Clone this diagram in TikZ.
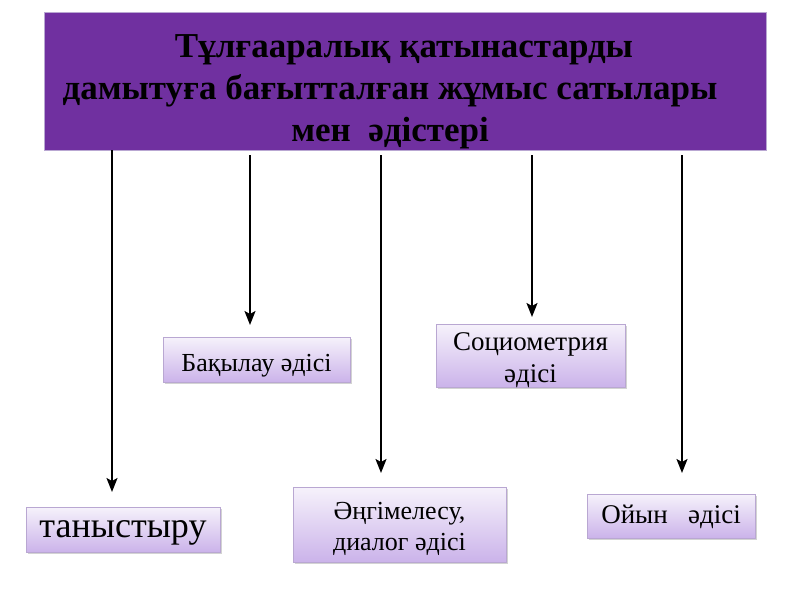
\documentclass[tikz,border=0pt]{standalone}
\usepackage{fontspec}
\setmainfont{Liberation Serif}
\usetikzlibrary{shadows,arrows.meta}
\definecolor{titlepurple}{HTML}{7030A0}
\definecolor{boxtop}{HTML}{F6F2FB}
\definecolor{boxbot}{HTML}{CBB3EA}
\definecolor{boxedge}{HTML}{B9A7D2}
\tikzset{
  leaf/.style={draw=boxedge, line width=0.8pt, top color=boxtop, bottom color=boxbot,
    drop shadow={shadow xshift=1.5pt, shadow yshift=-1.5pt, opacity=0.35},
    inner sep=0pt},
  leaftext/.style={align=center, inner sep=0pt},
  conn/.style={-{Stealth[length=14pt,width=11pt,inset=3pt]}, line width=1.8pt, black},
}
\begin{document}
\begin{tikzpicture}[x=1pt,y=-1pt]
\useasboundingbox (0,0) rectangle (800,600);
\node[fill=titlepurple, draw=boxedge, line width=0.6pt, minimum width=722pt, minimum height=138pt, anchor=north west, inner sep=0pt] (title) at (44,12) {};
\node[align=center, font=\bfseries\fontsize{35}{42}\selectfont] (tt) at (390,92) {\hspace*{28pt}Тұлғааралық қатынастарды\\ дамытуға бағытталған жұмыс сатылары\\ мен\ \ әдістері};

\node[leaf, minimum width=194pt, minimum height=45pt] (b1) at (123,529.5) {};
\node[leaf, minimum width=187pt, minimum height=45pt] (b2) at (256.5,359.5) {};
\node[leaf, minimum width=213pt, minimum height=75pt] (b3) at (399.5,524.5) {};
\node[leaf, minimum width=189pt, minimum height=63pt] (b4) at (530.5,355.5) {};
\node[leaf, minimum width=168pt, minimum height=44pt] (b5) at (671,516) {};

\node[leaftext, font=\fontsize{36}{42}\selectfont, yshift=-3pt] (t1) at (b1.center) {таныстыру};
\node[leaftext, font=\fontsize{26}{30}\selectfont, yshift=-6pt] (t2) at (b2.center) {Бақылау әдісі};
\node[leaftext, font=\fontsize{26}{31}\selectfont, yshift=-4pt] (t3) at (b3.center) {Әңгімелесу,\\ диалог әдісі};
\node[leaftext, font=\fontsize{27}{32}\selectfont, yshift=-5pt] (t4) at (b4.center) {Социометрия\\ әдісі};
\node[leaftext, font=\fontsize{27}{31}\selectfont, yshift=-1pt] (t5) at (b5.center) {Ойын\ \ \ әдісі};

\coordinate (s1) at (112,150); \coordinate (e1) at (112,492);
\coordinate (s2) at (250,155); \coordinate (e2) at (250,325);
\coordinate (s3) at (381,155); \coordinate (e3) at (381,473);
\coordinate (s4) at (532,155); \coordinate (e4) at (532,317);
\coordinate (s5) at (682,155); \coordinate (e5) at (682,473);
\draw[conn] (s1) -- (e1);
\draw[conn] (s2) -- (e2);
\draw[conn] (s3) -- (e3);
\draw[conn] (s4) -- (e4);
\draw[conn] (s5) -- (e5);
\end{tikzpicture}
\end{document}
